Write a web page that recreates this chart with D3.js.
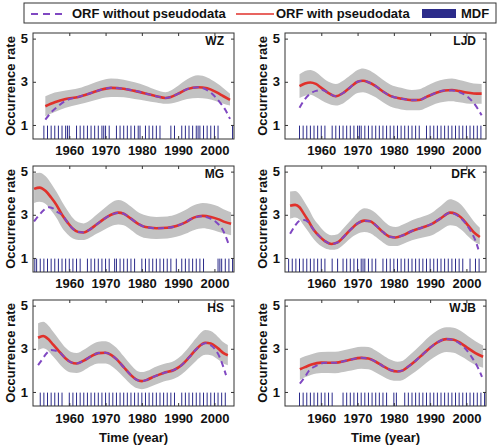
<!DOCTYPE html>
<html><head><meta charset="utf-8">
<script src="https://cdn.jsdelivr.net/npm/d3@7"></script>
<style>
body{margin:0;background:#fff}
text{font-family:"Liberation Sans",Arial,sans-serif;font-weight:bold;fill:#111}
</style>
</head><body><svg id="c" width="500" height="448"></svg>
<script>
// ---------- data ----------
const panelNames = ["WZ","LJD","MG","DFK","HS","WJB"];
const xTicks = [1960,1970,1980,1990,2000];
const yTicks = [1,3,5];
const legendLabels = ["ORF without pseudodata","ORF with pseudodata","MDF"];
const xAxisTitle = "Time (year)";
const yAxisTitle = "Occurrence rate";

// ORF with pseudodata [year, rate]
const wzWith = [[1953.4,1.87],[1956,2.05],[1959,2.2],[1962.5,2.3],[1966,2.48],[1968.5,2.62],[1971.5,2.72],[1975,2.68],[1978,2.58],[1981,2.46],[1984,2.33],[1986.5,2.25],[1988,2.3],[1990,2.45],[1992.5,2.66],[1995.5,2.75],[1998,2.7],[2000.5,2.52],[2002.5,2.33],[2004.3,2.16]];
const ljdWith = [[1954,2.8],[1955.5,2.92],[1957,2.97],[1958.5,2.9],[1960,2.72],[1962,2.48],[1964,2.33],[1966,2.48],[1968,2.75],[1970,3.0],[1971.5,3.05],[1973,2.98],[1975,2.8],[1977,2.55],[1979,2.35],[1982,2.22],[1985,2.15],[1987,2.16],[1989,2.3],[1991.5,2.48],[1994,2.6],[1996,2.62],[1998,2.57],[2000,2.5],[2002,2.46],[2004.2,2.45]];
const mgWith = [[1950.3,4.2],[1951.8,4.26],[1953.5,4.1],[1955,3.8],[1956.5,3.45],[1958,3.0],[1959.5,2.65],[1961,2.35],[1962.5,2.2],[1964,2.18],[1965.5,2.3],[1967.5,2.55],[1969.5,2.8],[1971.5,3.0],[1973.5,3.1],[1975,3.05],[1977,2.82],[1979,2.58],[1981,2.43],[1984,2.38],[1987,2.4],[1989.5,2.48],[1992,2.65],[1994.5,2.88],[1996.8,2.95],[1999,2.9],[2001,2.8],[2003,2.66],[2004.6,2.58]];
const dfkWith = [[1951.4,3.42],[1952.8,3.46],[1954,3.35],[1955,3.1],[1956.5,2.7],[1958,2.28],[1959.5,2.0],[1961,1.78],[1962.8,1.65],[1964.5,1.72],[1966,1.95],[1968,2.3],[1970,2.6],[1971.8,2.73],[1973.5,2.7],[1975,2.52],[1977,2.2],[1979,1.98],[1980.5,1.95],[1982.5,2.05],[1985,2.25],[1988,2.42],[1990.5,2.58],[1993,2.85],[1995.5,3.1],[1997,3.05],[1998.5,2.88],[2000.5,2.5],[2002,2.2],[2003.7,1.97]];
const hsWith = [[1951.4,3.51],[1952.8,3.59],[1954.2,3.45],[1955.5,3.2],[1957.3,2.86],[1959,2.55],[1960.5,2.37],[1962,2.32],[1964,2.45],[1966,2.65],[1968,2.8],[1970,2.82],[1971.5,2.72],[1973,2.52],[1975,2.15],[1977,1.78],[1978.5,1.57],[1980,1.5],[1981.5,1.57],[1983.5,1.72],[1986,1.88],[1989,2.03],[1991,2.25],[1993,2.6],[1995,2.98],[1997.5,3.28],[1999,3.25],[2001,3.02],[2002.5,2.8],[2003.7,2.7]];
const wjbWith = [[1954.1,2.05],[1955.5,2.15],[1957.3,2.27],[1960,2.36],[1963.8,2.35],[1967.4,2.47],[1971,2.58],[1973,2.55],[1975,2.4],[1977,2.2],[1979,2.02],[1981,1.95],[1982.5,2.0],[1984,2.18],[1986,2.45],[1988,2.75],[1990,3.05],[1992,3.3],[1994.5,3.45],[1996.5,3.42],[1998.5,3.25],[2000.5,3.02],[2002.5,2.8],[2004.6,2.63]];

// confidence band [year, lower, upper]
const wzBand = [[1953.4,1.4,2.33],[1956,1.6,2.5],[1959,1.8,2.6],[1962.5,1.95,2.7],[1966,2.1,2.9],[1968.5,2.22,3.05],[1971.5,2.3,3.15],[1975,2.28,3.1],[1978,2.2,2.98],[1981,2.12,2.82],[1984,2.04,2.62],[1986.5,1.98,2.52],[1988,2.0,2.6],[1990,2.08,2.82],[1992.5,2.2,3.12],[1995.5,2.25,3.3],[1998,2.22,3.2],[2000.5,2.1,2.95],[2002.5,1.98,2.7],[2004.3,1.9,2.45]];
const ljdBand = [[1954,2.25,3.35],[1955.5,2.35,3.5],[1957,2.4,3.55],[1958.5,2.3,3.45],[1960,2.15,3.25],[1962,1.98,3.0],[1964,1.9,2.9],[1966,2.0,3.05],[1968,2.25,3.3],[1970,2.48,3.55],[1971.5,2.52,3.62],[1973,2.45,3.55],[1975,2.28,3.35],[1977,2.05,3.1],[1979,1.85,2.88],[1982,1.72,2.72],[1985,1.68,2.62],[1987,1.68,2.65],[1989,1.8,2.8],[1991.5,1.98,3.0],[1994,2.08,3.12],[1996,2.1,3.15],[1998,2.05,3.08],[2000,2.0,3.0],[2002,1.98,2.92],[2004.2,1.98,2.9]];
const mgBand = [[1950.3,3.55,4.92],[1951.8,3.6,4.95],[1953.5,3.5,4.78],[1955,3.2,4.45],[1956.5,2.85,4.05],[1958,2.4,3.6],[1959.5,2.1,3.2],[1961,1.9,2.85],[1962.5,1.83,2.65],[1964,1.83,2.6],[1965.5,1.92,2.72],[1967.5,2.12,3.0],[1969.5,2.3,3.28],[1971.5,2.47,3.55],[1973.5,2.55,3.68],[1975,2.52,3.62],[1977,2.3,3.38],[1979,2.05,3.12],[1981,1.92,2.98],[1984,1.88,2.9],[1987,1.9,2.92],[1989.5,1.98,3.02],[1992,2.12,3.22],[1994.5,2.3,3.45],[1996.8,2.38,3.55],[1999,2.32,3.5],[2001,2.22,3.4],[2003,2.12,3.22],[2004.6,2.05,3.12]];
const dfkBand = [[1951.4,2.82,4.08],[1952.8,2.88,4.1],[1954,2.78,3.95],[1955,2.55,3.7],[1956.5,2.2,3.28],[1958,1.85,2.8],[1959.5,1.6,2.48],[1961,1.45,2.2],[1962.8,1.38,2.05],[1964.5,1.42,2.1],[1966,1.6,2.35],[1968,1.9,2.72],[1970,2.12,3.1],[1971.8,2.2,3.3],[1973.5,2.15,3.25],[1975,1.98,3.08],[1977,1.72,2.75],[1979,1.55,2.48],[1980.5,1.55,2.43],[1982.5,1.65,2.55],[1985,1.82,2.75],[1988,1.95,2.92],[1990.5,2.05,3.1],[1993,2.3,3.42],[1995.5,2.52,3.72],[1997,2.48,3.65],[1998.5,2.32,3.48],[2000.5,2.0,3.05],[2002,1.78,2.7],[2003.7,1.62,2.4]];
const hsBand = [[1951.4,2.92,4.18],[1952.8,3.02,4.25],[1954.2,2.9,4.08],[1955.5,2.65,3.8],[1957.3,2.3,3.4],[1959,2.02,3.05],[1960.5,1.9,2.85],[1962,1.88,2.8],[1964,2.0,2.95],[1966,2.2,3.18],[1968,2.32,3.33],[1970,2.32,3.35],[1971.5,2.22,3.25],[1973,2.02,3.05],[1975,1.68,2.65],[1977,1.35,2.25],[1978.5,1.18,2.0],[1980,1.13,1.92],[1981.5,1.18,1.98],[1983.5,1.32,2.15],[1986,1.48,2.3],[1989,1.62,2.45],[1991,1.82,2.7],[1993,2.12,3.08],[1995,2.45,3.5],[1997.5,2.72,3.87],[1999,2.7,3.82],[2001,2.5,3.55],[2002.5,2.32,3.3],[2003.7,2.24,3.18]];
const wjbBand = [[1954.1,1.55,2.55],[1955.5,1.68,2.65],[1957.3,1.8,2.75],[1960,1.88,2.85],[1963.8,1.87,2.86],[1967.4,1.97,2.98],[1971,2.08,3.1],[1973,2.05,3.08],[1975,1.9,2.92],[1977,1.72,2.7],[1979,1.56,2.5],[1981,1.52,2.4],[1982.5,1.56,2.45],[1984,1.72,2.65],[1986,1.95,2.95],[1988,2.22,3.28],[1990,2.48,3.6],[1992,2.7,3.85],[1994.5,2.85,4.0],[1996.5,2.82,3.98],[1998.5,2.65,3.82],[2000.5,2.45,3.58],[2002.5,2.25,3.35],[2004.6,2.12,3.15]];

// ORF without pseudodata [year, rate]
const wzWithout = [[1953.4,1.25],[1955,1.58],[1957,1.88],[1959,2.12],[1962.5,2.3],[1966,2.48],[1968.5,2.62],[1971.5,2.72],[1975,2.68],[1978,2.58],[1981,2.46],[1984,2.33],[1986.5,2.25],[1988,2.3],[1990,2.45],[1992.5,2.66],[1995.5,2.75],[1997.5,2.66],[1999.5,2.42],[2001.5,2.05],[2003,1.7],[2004.3,1.28]];
const ljdWithout = [[1954,1.8],[1955.5,2.2],[1957,2.45],[1958.5,2.58],[1960.3,2.62],[1962,2.48],[1964,2.33],[1966,2.48],[1968,2.75],[1970,3.0],[1971.5,3.05],[1973,2.98],[1975,2.8],[1977,2.55],[1979,2.35],[1982,2.22],[1985,2.15],[1987,2.16],[1989,2.3],[1991.5,2.48],[1994,2.6],[1996,2.6],[1998,2.52],[2000,2.35],[2002,2.02],[2004.2,1.45]];
const mgWithout = [[1950.3,2.69],[1951.5,2.95],[1953,3.22],[1954.3,3.35],[1955.5,3.3],[1956.8,3.12],[1958,3.0],[1959.5,2.65],[1961,2.35],[1962.5,2.2],[1964,2.18],[1965.5,2.3],[1967.5,2.55],[1969.5,2.8],[1971.5,3.0],[1973.5,3.1],[1975,3.05],[1977,2.82],[1979,2.58],[1981,2.43],[1984,2.38],[1987,2.4],[1989.5,2.48],[1992,2.65],[1994.5,2.88],[1996.8,2.93],[1998.5,2.85],[2000.5,2.66],[2002.3,2.3],[2003.8,1.7]];
const dfkWithout = [[1951.4,2.12],[1952.8,2.5],[1954,2.72],[1955.2,2.76],[1956.3,2.68],[1957.3,2.45],[1958,2.28],[1959.5,2.0],[1961,1.78],[1962.8,1.65],[1964.5,1.72],[1966,1.95],[1968,2.3],[1970,2.6],[1971.8,2.73],[1973.5,2.7],[1975,2.52],[1977,2.2],[1979,1.98],[1980.5,1.95],[1982.5,2.05],[1985,2.25],[1988,2.42],[1990.5,2.58],[1993,2.85],[1995.5,3.1],[1997,3.02],[1998.5,2.84],[2000,2.55],[2001.5,2.15],[2002.5,1.8],[2003.3,1.4]];
const hsWithout = [[1951.4,2.24],[1952.5,2.5],[1953.7,2.78],[1955,2.94],[1956,2.92],[1957.3,2.84],[1959,2.55],[1960.5,2.37],[1962,2.32],[1964,2.45],[1966,2.65],[1968,2.8],[1970,2.82],[1971.5,2.72],[1973,2.52],[1975,2.15],[1977,1.78],[1978.5,1.57],[1980,1.5],[1981.5,1.57],[1983.5,1.72],[1986,1.88],[1989,2.03],[1991,2.25],[1993,2.6],[1995,2.98],[1997.5,3.26],[1999.5,3.1],[2001.4,2.63],[2003.2,1.78]];
const wjbWithout = [[1954.1,1.39],[1955.5,1.7],[1956.5,1.96],[1958.7,2.22],[1961,2.35],[1963.8,2.35],[1967.4,2.47],[1971,2.58],[1973,2.55],[1975,2.4],[1977,2.2],[1979,2.02],[1981,1.95],[1982.5,2.0],[1984,2.18],[1986,2.45],[1988,2.75],[1990,3.05],[1992,3.3],[1994.5,3.45],[1996.5,3.4],[1998.5,3.2],[2000,2.95],[2001.4,2.63],[2002.8,2.25],[2004.3,1.7]];

// MDF event years
const wzMDF = [1953,1954,1955,1956,1957,1958,1959,1959.5,1960,1962,1963,1964,1965,1966,1967,1968,1969,1969.5,1970,1971,1973,1974,1975,1976,1977,1978,1979,1979.5,1981,1982,1983,1984,1985,1988,1989,1991,1992,1993,1994,1995,1995.5,1996,1997,1998,1999,2000,2001,2005];
const ljdMDF = [1954,1955,1956,1957,1958,1959,1960,1961,1963,1964,1965,1966,1967,1968,1969,1970,1970.5,1971,1972,1973,1974,1975,1976,1977,1978,1979,1980,1981,1982,1983,1984,1985,1986,1987,1989,1990,1991,1992,1993,1994,1995,1996,1997,1998,1999,2000,2001,2002,2003,2004];
const mgMDF = [1950.5,1951,1952,1953,1954,1955,1956,1957,1958,1959,1960,1961,1962,1963,1965,1966,1967,1968,1969,1970,1971,1972.5,1973,1974,1975,1976,1977,1978,1980,1981,1982,1983,1984,1985,1986,1987,1988,1989.5,1991,1992,1993,1994,1995,1996,1997,2001,2001.5,2002,2003,2004,2005];
const dfkMDF = [1951,1952,1953,1954,1955,1956,1957,1958,1959,1960,1961,1963,1964.5,1966,1967,1968,1969,1970,1971,1971.5,1972,1973,1974,1975,1977,1978,1979,1980,1981,1982,1983,1984,1985,1986,1987,1988,1989,1990,1991,1992,1993,1994,1995,1996,1997,1998,1999,2001,2002.5,2003.5];
const hsMDF = [1952,1953,1954,1955,1956,1957,1958,1960,1961,1962,1963,1964,1965,1966,1967,1968,1969,1970,1971,1972,1973,1974,1975,1976,1977,1978,1979,1980,1981,1982,1983,1984,1985,1986,1987,1988,1989,1991,1992,1993,1994,1995,1996,1997,1998,1999,2000,2001,2002,2003];
const wjbMDF = [1954,1955,1956,1957,1958,1959,1960,1961,1962,1963,1966,1967,1968,1969,1970,1971,1972,1973,1974,1975,1976,1977,1978,1980,1980.7,1983,1984,1985,1986,1987,1988,1989,1990,1991,1992,1993,1994,1995,1996,1997,1998,1999,2000,2001,2002,2003,2004,2005];

const panels = [
  {name:panelNames[0], with:wzWith,  band:wzBand,  without:wzWithout,  mdf:wzMDF},
  {name:panelNames[1], with:ljdWith, band:ljdBand, without:ljdWithout, mdf:ljdMDF},
  {name:panelNames[2], with:mgWith,  band:mgBand,  without:mgWithout,  mdf:mgMDF},
  {name:panelNames[3], with:dfkWith, band:dfkBand, without:dfkWithout, mdf:dfkMDF},
  {name:panelNames[4], with:hsWith,  band:hsBand,  without:hsWithout,  mdf:hsMDF},
  {name:panelNames[5], with:wjbWith, band:wjbBand, without:wjbWithout, mdf:wjbMDF}
];

// ---------- layout / style ----------
const colX = [33, 285], rowY = [33, 166, 300];
const PW = 201, PH = 106;
const C = {red:"#e0312b", purple:"#8048c2", band:"#c2c2c2", mdf:"#2b2b8a", axis:"#333"};

const svg = d3.select("#c");
const x = d3.scaleLinear().domain([1950, 2005.4]).range([0, PW]);
const y = d3.scaleLinear().domain([0.35, 5.26]).range([PH, 0]);

panels.forEach((p, i) => {
  const col = i % 2, row = Math.floor(i / 2);
  const g = svg.append("g").attr("transform", `translate(${colX[col]},${rowY[row]})`);

  g.append("path").datum(p.band)
    .attr("d", d3.area().curve(d3.curveMonotoneX).x(d => x(d[0])).y0(d => y(d[1])).y1(d => y(d[2])))
    .attr("fill", C.band);

  g.selectAll("line.mdf").data(p.mdf).join("line").attr("class","mdf")
    .attr("x1", d => x(d)).attr("x2", d => x(d))
    .attr("y1", y(0.35)).attr("y2", y(0.97))
    .attr("stroke", C.mdf).attr("stroke-width", 1);

  g.append("path").datum(p.with)
    .attr("d", d3.line().curve(d3.curveMonotoneX).x(d => x(d[0])).y(d => y(d[1])))
    .attr("fill","none").attr("stroke", C.red).attr("stroke-width", 2.6);

  g.append("path").datum(p.without)
    .attr("d", d3.line().curve(d3.curveMonotoneX).x(d => x(d[0])).y(d => y(d[1])))
    .attr("fill","none").attr("stroke", C.purple).attr("stroke-width", 2)
    .attr("stroke-dasharray","6,4");

  const ax = g.append("g").attr("transform", `translate(0,${PH})`)
    .call(d3.axisBottom(x).tickValues(xTicks).tickFormat(d3.format("d")).tickSizeInner(-3).tickSizeOuter(0).tickPadding(row===2?8:7));
  const ay = g.append("g")
    .call(d3.axisLeft(y).tickValues(yTicks).tickFormat(d3.format("d")).tickSizeInner(-3).tickSizeOuter(0).tickPadding(5));
  const at = g.append("g")
    .call(d3.axisTop(x).tickValues(xTicks).tickFormat("").tickSizeInner(-3).tickSizeOuter(0));
  const ar = g.append("g").attr("transform", `translate(${PW},0)`)
    .call(d3.axisRight(y).tickValues(yTicks).tickFormat("").tickSizeInner(-3).tickSizeOuter(0));
  [ax, ay, at, ar].forEach(a => {
    a.select(".domain").remove();
    a.selectAll("line").attr("stroke", C.axis);
    a.selectAll("text").attr("font-size", 13).attr("font-weight","bold").attr("fill","#111")
      .attr("font-family",'"Liberation Sans",Arial,sans-serif');
  });
  g.append("rect").attr("width", PW).attr("height", PH)
    .attr("fill","none").attr("stroke", C.axis).attr("stroke-width", 1);

  g.append("text").attr("x", PW - 10).attr("y", 12).attr("text-anchor","end")
    .attr("font-size", 12).text(p.name);

  g.append("text").attr("transform", `translate(-18,${PH/2}) rotate(-90)`)
    .attr("text-anchor","middle").attr("font-size", 13).text(yAxisTitle);

  if (row === 2) {
    g.append("text").attr("x", PW/2).attr("y", PH + 36).attr("text-anchor","middle")
      .attr("font-size", 13).text(xAxisTitle);
  }
});

// legend
const lg = svg.append("g");
lg.append("rect").attr("x", 24).attr("y", 3).attr("width", 472).attr("height", 20)
  .attr("fill","#fff").attr("stroke", C.axis).attr("stroke-width", 1);
lg.append("line").attr("x1", 31).attr("x2", 67).attr("y1", 14).attr("y2", 14)
  .attr("stroke", C.purple).attr("stroke-width", 2).attr("stroke-dasharray","7,5");
lg.append("text").attr("x", 72).attr("y", 18).attr("font-size", 13).text(legendLabels[0]);
lg.append("line").attr("x1", 236).attr("x2", 274).attr("y1", 14).attr("y2", 14)
  .attr("stroke", C.red).attr("stroke-width", 1.5);
lg.append("text").attr("x", 276).attr("y", 18).attr("font-size", 13).text(legendLabels[1]);
lg.append("rect").attr("x", 422).attr("y", 9).attr("width", 34).attr("height", 9).attr("fill", C.mdf);
lg.append("text").attr("x", 461).attr("y", 18).attr("font-size", 13).text(legendLabels[2]);
</script>
</body></html>
